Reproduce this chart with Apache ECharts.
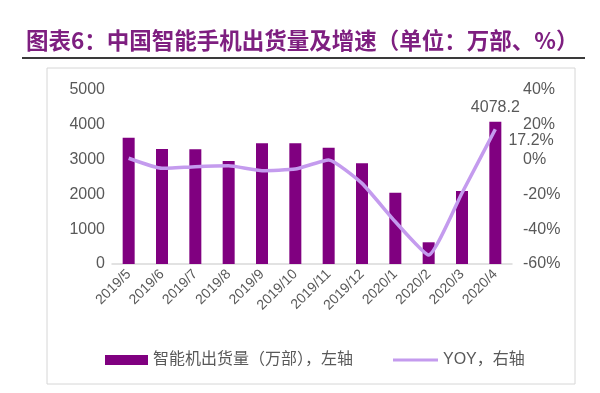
<!DOCTYPE html>
<html>
<head>
<meta charset="utf-8">
<script src="https://cdn.jsdelivr.net/npm/echarts@6/dist/echarts.min.js"></script>
<style>
html,body{margin:0;padding:0;background:#fff;}
#c{width:600px;height:393px;}
</style>
</head>
<body>
<div id="c"></div>
<script>
const categories = ['2019/5','2019/6','2019/7','2019/8','2019/9','2019/10','2019/11','2019/12','2020/1','2020/2','2020/3','2020/4'];
const shipments = [3620, 3295, 3290, 2950, 3458, 3458, 3332, 2885, 2043, 622, 2092, 4078.2];
const yoy = [0.6, -5.2, -4.2, -3.7, -6.5, -5.6, -0.4, -13.8, -35.8, -54.9, -19.3, 17.2];
const leftTicks = [0, 1000, 2000, 3000, 4000, 5000];
const rightTicks = [-60, -40, -20, 0, 20, 40];
const seriesNames = ['智能机出货量（万部），左轴', 'YOY，右轴'];
const titleText = '图表6：中国智能手机出货量及增速（单位：万部、%）';

const FONT = '"Liberation Sans", "Noto Sans CJK SC", sans-serif';
const GRAY = '#595959';
const LINE = '#C49BEE';
const chart = echarts.init(document.getElementById('c'), null, {renderer: 'canvas'});
const lastIdx = categories.length - 1;

chart.setOption({
  animation: false,
  title: {
    text: titleText,
    left: 21, top: 24,
    textStyle: {fontFamily: '"Noto Sans CJK SC", sans-serif', fontSize: 22.5, fontWeight: 'bold', color: '#7E1F80'}
  },
  graphic: [
    {type: 'line', shape: {x1: 22, y1: 58, x2: 585, y2: 58}, style: {stroke: '#3a3a3a', lineWidth: 2}},
    {type: 'rect', shape: {x: 47, y: 68, width: 528, height: 316}, style: {fill: 'none', stroke: '#d6d6d6', lineWidth: 1}}
  ],
  legend: [
    {
      left: 100, top: 347,
      itemWidth: 43, itemHeight: 10,
      textStyle: {fontFamily: FONT, fontSize: 16, color: GRAY},
      data: [{name: seriesNames[0], icon: 'rect'}]
    },
    {
      left: 388, top: 347,
      itemWidth: 45, itemHeight: 3,
      textStyle: {fontFamily: FONT, fontSize: 16, color: GRAY},
      data: [{name: seriesNames[1], icon: 'rect', itemStyle: {color: LINE}}]
    }
  ],
  grid: {left: 112, right: 88, top: 89.5, bottom: 129},
  xAxis: {
    type: 'category',
    data: categories,
    axisLine: {lineStyle: {color: '#d9d9d9', width: 1.5}},
    axisTick: {inside: true, length: 3, lineStyle: {color: '#d9d9d9'}},
    axisLabel: {rotate: 45, fontFamily: FONT, fontSize: 14, color: GRAY, margin: 8, interval: 0}
  },
  yAxis: [
    {
      type: 'value', min: leftTicks[0], max: leftTicks[leftTicks.length-1], interval: 1000,
      splitLine: {show: false}, axisLine: {show: false}, axisTick: {show: false},
      axisLabel: {fontFamily: FONT, fontSize: 16, color: GRAY, margin: 7, formatter: v => String(v)}
    },
    {
      type: 'value', min: rightTicks[0], max: rightTicks[rightTicks.length-1], interval: 20,
      splitLine: {show: false}, axisLine: {show: false}, axisTick: {show: false},
      axisLabel: {fontFamily: FONT, fontSize: 16, color: GRAY, margin: 11, formatter: '{value}%'}
    }
  ],
  series: [
    {
      name: seriesNames[0], type: 'bar', yAxisIndex: 0, barWidth: 12,
      itemStyle: {color: '#800080'},
      data: shipments.map((v, i) => i === lastIdx ? {value: v, label: {show: true, position: 'top', distance: 6, formatter: '4078.2', fontFamily: FONT, fontSize: 16, color: GRAY}} : v)
    },
    {
      name: seriesNames[1], type: 'line', yAxisIndex: 1, smooth: 0.15,
      symbol: 'circle', symbolSize: 0.1, showSymbol: true,
      lineStyle: {color: LINE, width: 3.5},
      itemStyle: {color: LINE},
      labelLayout: {hideOverlap: false, dy: 11},
      data: yoy.map((v, i) => i === lastIdx ? {value: v, label: {show: true, position: 'right', distance: 13, formatter: '17.2%', fontFamily: FONT, fontSize: 16, color: GRAY}} : v)
    }
  ]
});
</script>
</body>
</html>
